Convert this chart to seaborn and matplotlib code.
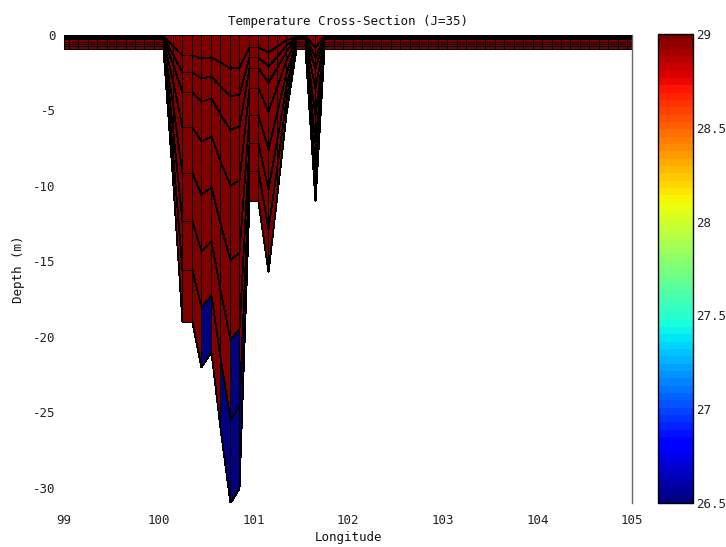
import numpy as np
import matplotlib
matplotlib.use("Agg")
import matplotlib.pyplot as plt
import seaborn as sns

# Grid-node longitudes along model row J=35 (end nodes pinned to the section limits)
lon_nodes = [99.0] + [round(v, 2) for v in np.arange(99.05, 104.96, 0.1)] + [105.0]

# Water depth (m) at each grid node; 0.9 m is the minimum depth over land/shallows
depth_nodes = [
    0.9, 0.9, 0.9, 0.9, 0.9, 0.9, 0.9, 0.9, 0.9, 0.9, 0.9, 0.9,      # 99.00 - 100.05
    10.0, 19.0, 19.0, 22.0, 21.0, 26.0, 31.0, 30.0,                  # 100.15 - 100.85
    11.0, 11.0, 15.7, 10.5, 5.2, 0.9, 0.9, 11.0,                     # 100.95 - 101.65
    0.9, 0.9, 0.9, 0.9, 0.9, 0.9, 0.9, 0.9, 0.9, 0.9, 0.9, 0.9,      # 101.75 - 102.85
    0.9, 0.9, 0.9, 0.9, 0.9, 0.9, 0.9, 0.9, 0.9, 0.9, 0.9, 0.9,      # 102.95 - 104.05
    0.9, 0.9, 0.9, 0.9, 0.9, 0.9, 0.9, 0.9, 0.9, 0.9,                # 104.15 - 105.00
]

# Sigma-layer interfaces (fraction of local depth)
sigma_levels = [0.0, -0.07, -0.13, -0.20, -0.32, -0.48, -0.65, -0.82, -1.0]

# Temperature (deg C): warm mixed water everywhere, cold water in the deepest layers
warm_temp = 29.4
cold_temp = 26.3
cold_column_lon = [100.45, 100.65, 100.75, 100.85]
cold_layer_count = [1, 1, 2, 1]

colorbar_ticks = [26.5, 27, 27.5, 28, 28.5, 29]
colorbar_labels = ["26.5", "27", "27.5", "28", "28.5", "29"]
x_ticks = [99, 100, 101, 102, 103, 104, 105]
y_ticks = [0, -5, -10, -15, -20, -25, -30]

# ---- build the section mesh ----
lon = np.array(lon_nodes)
depth = np.array(depth_nodes)
sigma = np.array(sigma_levels)
X = np.tile(lon, (len(sigma), 1))
Z = np.outer(sigma, depth)

temp = np.full((len(sigma) - 1, len(lon) - 1), warm_temp)
for c_lon, n_layers in zip(cold_column_lon, cold_layer_count):
    i = int(np.argmin(np.abs(lon - c_lon)))
    temp[-n_layers:, i] = cold_temp

# ---- styling ----
sns.set_style("white")
plt.rcParams["font.family"] = ["DejaVu Sans Mono", "DejaVu Sans"]
plt.rcParams["font.size"] = 9

jet64 = matplotlib.colormaps["jet"].resampled(64)

W, H = 726, 547
fig = plt.figure(figsize=(W / 100, H / 100), dpi=100)
ax = fig.add_axes([64 / W, 44 / H, 568 / W, 468 / H])
cax = fig.add_axes([658 / W, 44 / H, 35 / W, 469 / H])

mesh = ax.pcolormesh(X, Z, temp, cmap=jet64, vmin=26.5, vmax=29,
                     shading="flat", edgecolors="black", linewidth=0.6)

ax.set_xlim(99, 105)
ax.set_ylim(-31, 0)
ax.set_xticks(x_ticks)
ax.set_xticklabels([str(t) for t in x_ticks])
ax.set_yticks(y_ticks)
ax.set_yticklabels([str(t) for t in y_ticks])
ax.tick_params(axis="x", direction="in", length=4, width=0.8, pad=8, colors="#222222")
ax.tick_params(axis="y", direction="in", length=3, width=0.8, pad=6, colors="#222222")

for side in ("left", "top", "bottom"):
    ax.spines[side].set_visible(False)
ax.spines["right"].set_visible(True)
ax.spines["right"].set_color("#666666")
ax.spines["right"].set_linewidth(1.0)

ax.set_title("Temperature Cross-Section (J=35)", fontsize=9, pad=7, color="#111111")
ax.set_xlabel("Longitude", fontsize=9, labelpad=3, color="#111111")
ax.set_ylabel("Depth (m)", fontsize=9, labelpad=6, color="#111111")

cb = fig.colorbar(mesh, cax=cax)
cb.set_ticks(colorbar_ticks)
cb.set_ticklabels(colorbar_labels)
cb.outline.set_edgecolor("black")
cb.outline.set_linewidth(1.0)
cax.tick_params(direction="in", left=True, right=True, length=3, width=0.8,
                pad=2, labelsize=9, colors="#222222")

fig.savefig("out.png", dpi=100)
